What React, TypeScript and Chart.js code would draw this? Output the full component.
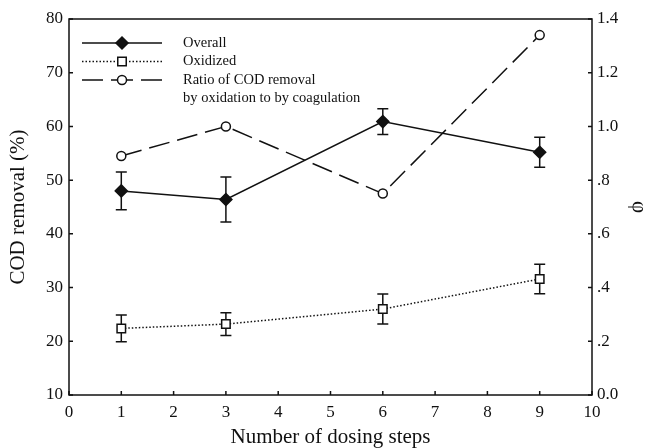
import React, { useEffect, useRef } from 'react';
import { Chart, registerables } from 'chart.js';

Chart.register(...registerables);

// ---- data ----
const dosingSteps = [1, 3, 6, 9];
const overallRemoval = [48.0, 46.4, 60.9, 55.2];
const overallError = [3.5, 4.2, 2.4, 2.8];
const oxidizedRemoval = [22.4, 23.2, 26.0, 31.6];
const oxidizedError = [2.5, 2.1, 2.8, 2.75];
const ratioPhi = [0.89, 1.0, 0.75, 1.34];

const labelOverall = ['Overall'];
const labelOxidized = ['Oxidized'];
const labelRatio = ['Ratio of COD removal', 'by oxidation to by coagulation'];

const xTitle = 'Number of dosing steps';
const yTitle = 'COD removal (%)';
const y1Title = 'φ';

const FONT = "'Liberation Serif', 'Times New Roman', serif";
const INK = '#111';

function drawMarker(ctx: CanvasRenderingContext2D, style: string, x: number, y: number, r: number, fill: string) {
  ctx.save();
  ctx.beginPath();
  if (style === 'rectRot') {
    ctx.moveTo(x, y - r);
    ctx.lineTo(x + r, y);
    ctx.lineTo(x, y + r);
    ctx.lineTo(x - r, y);
    ctx.closePath();
  } else if (style === 'rect') {
    const s = Math.SQRT1_2 * r;
    ctx.rect(x - s, y - s, 2 * s, 2 * s);
  } else {
    ctx.arc(x, y, r, 0, Math.PI * 2);
  }
  ctx.fillStyle = fill;
  ctx.fill();
  ctx.setLineDash([]);
  ctx.lineWidth = 1.5;
  ctx.strokeStyle = INK;
  ctx.stroke();
  ctx.restore();
}

export default function App() {
  const ref = useRef<HTMLCanvasElement>(null);

  useEffect(() => {
    const canvas = ref.current;
    if (!canvas) return;

    const toPts = (ys: number[]) => dosingSteps.map((x, i) => ({ x, y: ys[i] }));

    const errorBars = {
      id: 'errorBars',
      beforeDatasetsDraw(chart: any) {
        const ctx = chart.ctx as CanvasRenderingContext2D;
        chart.data.datasets.forEach((ds: any, i: number) => {
          if (!ds.errors) return;
          const meta = chart.getDatasetMeta(i);
          const ys = chart.scales[ds.yAxisID];
          meta.data.forEach((el: any, j: number) => {
            const v = ds.data[j].y;
            const e = ds.errors[j];
            const top = ys.getPixelForValue(v + e);
            const bot = ys.getPixelForValue(v - e);
            ctx.save();
            ctx.strokeStyle = INK;
            ctx.lineWidth = 1.5;
            ctx.setLineDash([]);
            ctx.beginPath();
            ctx.moveTo(el.x, top);
            ctx.lineTo(el.x, bot);
            ctx.moveTo(el.x - 5.5, top);
            ctx.lineTo(el.x + 5.5, top);
            ctx.moveTo(el.x - 5.5, bot);
            ctx.lineTo(el.x + 5.5, bot);
            ctx.stroke();
            ctx.restore();
          });
        });
      },
    };

    const frameAndTicks = {
      id: 'frameAndTicks',
      afterDraw(chart: any) {
        const ctx = chart.ctx as CanvasRenderingContext2D;
        const a = chart.chartArea;
        ctx.save();
        ctx.strokeStyle = INK;
        ctx.lineWidth = 1.5;
        ctx.setLineDash([]);
        ctx.strokeRect(a.left, a.top, a.right - a.left, a.bottom - a.top);
        ctx.beginPath();
        const L = 4;
        const xs = chart.scales.x;
        xs.ticks.forEach((_: any, i: number) => {
          const px = xs.getPixelForTick(i);
          ctx.moveTo(px, a.bottom);
          ctx.lineTo(px, a.bottom - L);
        });
        const ys = chart.scales.y;
        ys.ticks.forEach((_: any, i: number) => {
          const py = ys.getPixelForTick(i);
          ctx.moveTo(a.left, py);
          ctx.lineTo(a.left + L, py);
        });
        const y1 = chart.scales.y1;
        y1.ticks.forEach((_: any, i: number) => {
          const py = y1.getPixelForTick(i);
          ctx.moveTo(a.right, py);
          ctx.lineTo(a.right - L, py);
        });
        ctx.stroke();
        ctx.restore();
      },
    };

    const customLegend = {
      id: 'customLegend',
      afterDraw(chart: any) {
        const ctx = chart.ctx as CanvasRenderingContext2D;
        const a = chart.chartArea;
        const x0 = a.left + 13;
        const x1 = a.left + 93;
        const xm = (x0 + x1) / 2;
        const tx = a.left + 114;
        let y = a.top + 24;
        const lh = 18.5;
        ctx.save();
        ctx.font = `14.5px ${FONT}`;
        ctx.fillStyle = INK;
        ctx.textBaseline = 'middle';
        ctx.textAlign = 'left';
        chart.data.datasets.forEach((ds: any) => {
          ctx.save();
          ctx.strokeStyle = INK;
          ctx.lineWidth = ds.borderWidth;
          ctx.setLineDash(ds.borderDash || []);
          ctx.beginPath();
          ctx.moveTo(x0, y);
          ctx.lineTo(xm, y);
          ctx.stroke();
          ctx.beginPath();
          ctx.moveTo(x1, y);
          ctx.lineTo(xm, y);
          ctx.stroke();
          ctx.restore();
          drawMarker(ctx, ds.pointStyle, xm, y, ds.pointRadius, ds.pointBackgroundColor);
          const lines: string[] = ds.legendLines;
          lines.forEach((t, k) => {
            ctx.fillText(t, tx, y + k * lh);
          });
          y += lh * lines.length;
        });
        ctx.restore();
      },
    };

    const fmtPhi = (v: number) => {
      const r = Math.round(v * 10) / 10;
      if (r === 0) return '0.0';
      if (r < 1) return r.toFixed(1).replace(/^0/, '');
      return r.toFixed(1);
    };

    const chart = new Chart(canvas, {
      type: 'line',
      data: {
        datasets: [
          {
            label: labelOverall.join(' '),
            legendLines: labelOverall,
            data: toPts(overallRemoval),
            errors: overallError,
            yAxisID: 'y',
            borderColor: INK,
            borderWidth: 1.5,
            borderDash: [],
            pointStyle: 'rectRot',
            pointRadius: 6,
            pointBackgroundColor: INK,
            pointBorderColor: INK,
            pointBorderWidth: 1.5,
            tension: 0,
          } as any,
          {
            label: labelOxidized.join(' '),
            legendLines: labelOxidized,
            data: toPts(oxidizedRemoval),
            errors: oxidizedError,
            yAxisID: 'y',
            borderColor: INK,
            borderWidth: 1.5,
            borderDash: [1.5, 2],
            pointStyle: 'rect',
            pointRadius: 6,
            pointBackgroundColor: '#fff',
            pointBorderColor: INK,
            pointBorderWidth: 1.5,
            tension: 0,
          } as any,
          {
            label: labelRatio.join(' '),
            legendLines: labelRatio,
            data: toPts(ratioPhi),
            yAxisID: 'y1',
            borderColor: INK,
            borderWidth: 1.5,
            borderDash: [21, 8],
            pointStyle: 'circle',
            pointRadius: 4.5,
            pointBackgroundColor: '#fff',
            pointBorderColor: INK,
            pointBorderWidth: 1.5,
            tension: 0,
          } as any,
        ],
      },
      options: {
        animation: false,
        responsive: false,
        devicePixelRatio: 1,
        layout: { padding: { top: 19, left: 0, right: 0, bottom: 0 } },
        plugins: {
          legend: { display: false },
          tooltip: { enabled: false },
        },
        scales: {
          x: {
            type: 'linear',
            min: 0,
            max: 10,
            grid: { display: false, drawTicks: false },
            border: { display: false },
            ticks: {
              stepSize: 1,
              autoSkip: false,
              maxRotation: 0,
              padding: 7,
              color: INK,
              font: { family: FONT, size: 17 },
            },
            title: {
              display: true,
              text: xTitle,
              color: INK,
              padding: { top: 0, bottom: -2 },
              font: { family: FONT, size: 21 },
            },
            afterFit: (s: any) => { s.height = 53; },
          },
          y: {
            type: 'linear',
            position: 'left',
            min: 10,
            max: 80,
            grid: { display: false, drawTicks: false },
            border: { display: false },
            ticks: {
              stepSize: 10,
              padding: 6,
              color: INK,
              font: { family: FONT, size: 17 },
            },
            title: {
              display: true,
              text: yTitle,
              color: INK,
              padding: { top: 6, bottom: 0 },
              font: { family: FONT, size: 21 },
            },
            afterFit: (s: any) => { s.width = 69; },
          },
          y1: {
            type: 'linear',
            position: 'right',
            min: 0,
            max: 1.4,
            grid: { display: false, drawTicks: false },
            border: { display: false },
            ticks: {
              stepSize: 0.2,
              padding: 5,
              color: INK,
              font: { family: FONT, size: 17 },
              callback: (v: any) => fmtPhi(Number(v)),
            },
            title: {
              display: true,
              text: y1Title,
              color: INK,
              padding: { top: -3, bottom: 0 },
              font: { family: FONT, size: 21 },
            },
            afterFit: (s: any) => { s.width = 56; },
          },
        },
      } as any,
      plugins: [errorBars, frameAndTicks, customLegend],
    });

    return () => chart.destroy();
  }, []);

  return (
    <div style={{ position: 'absolute', left: 0, top: 0, width: 648, height: 448, background: '#fff' }}>
      <canvas ref={ref} width={648} height={448} style={{ display: 'block', width: 648, height: 448 }} />
    </div>
  );
}
